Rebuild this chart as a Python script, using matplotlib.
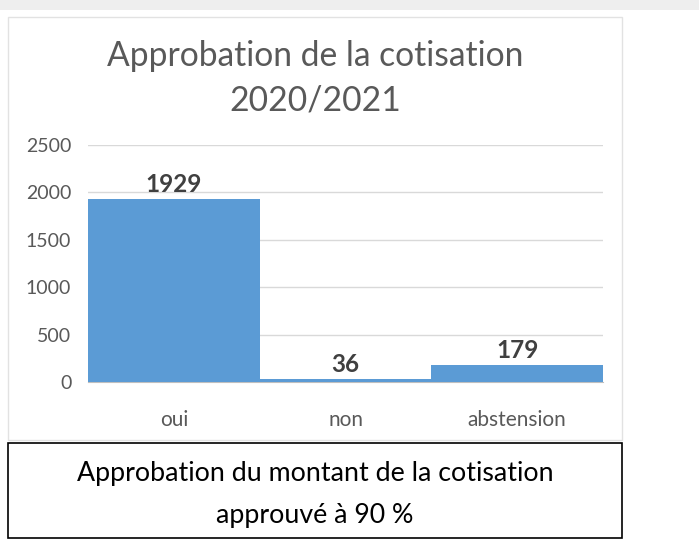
import matplotlib.pyplot as plt
from matplotlib.patches import Rectangle

# data
categories = ["oui", "non", "abstension"]
votes = [1929, 36, 179]
yticks = [0, 500, 1000, 1500, 2000, 2500]
title = "Approbation de la cotisation\n2020/2021"
caption = "Approbation du montant de la cotisation\napprouvé à 90 %"

W, H = 699, 541
plt.rcParams['font.family'] = ['Lato', 'DejaVu Sans']

fig = plt.figure(figsize=(W/100, H/100), dpi=100)

def fx(px):
    return px / W

def fy(py):
    return 1 - py / H

# top grey strip and chart frame (behind the axes)
fig.patches.append(Rectangle((0, fy(10)), 1, 10/H, transform=fig.transFigure,
                             facecolor="#eeeeee", edgecolor="none", zorder=-2))
fig.patches.append(Rectangle((fx(8), fy(440)), fx(614), 423/H, transform=fig.transFigure,
                             facecolor="white", edgecolor="#e2e2e2", lw=1, zorder=-1))

ax = fig.add_axes([fx(88), fy(382), fx(515), (382-145)/H])
ax.patch.set_alpha(0)
x = range(len(categories))
ax.bar(x, votes, width=1.0, color="#5b9bd5", zorder=3)
for i, v in zip(x, votes):
    ax.text(i, v + 30, str(v), ha="center", va="bottom", fontsize=17.5,
            fontweight="bold", color="#404040")

ax.set_xlim(-0.5, 2.5)
ax.set_ylim(0, 2500)
ax.set_yticks(yticks)
ax.set_xticks(list(x))
ax.set_xticklabels(categories, fontsize=15)
ax.tick_params(axis="both", length=0, labelsize=14, labelcolor="#595959")
ax.tick_params(axis="x", labelsize=15, pad=20)
ax.tick_params(axis="y", pad=12)
ax.grid(axis="y", color="#d9d9d9", lw=1, zorder=0)
for s in ["top", "right", "left"]:
    ax.spines[s].set_visible(False)
ax.spines["bottom"].set_color("#bfbfbf")

fig.text(fx(315), fy(78), title, ha="center", va="center", fontsize=24.2,
         color="#595959", linespacing=1.5)

# caption box
fig.patches.append(Rectangle((fx(8), fy(538)), fx(614), 95/H, transform=fig.transFigure,
                             facecolor="white", edgecolor="black", lw=1.2, zorder=-1))
fig.text(fx(315), fy(494), caption, ha="center", va="center", fontsize=19.3,
         color="black", linespacing=1.85)

fig.savefig("out.png", dpi=100)
